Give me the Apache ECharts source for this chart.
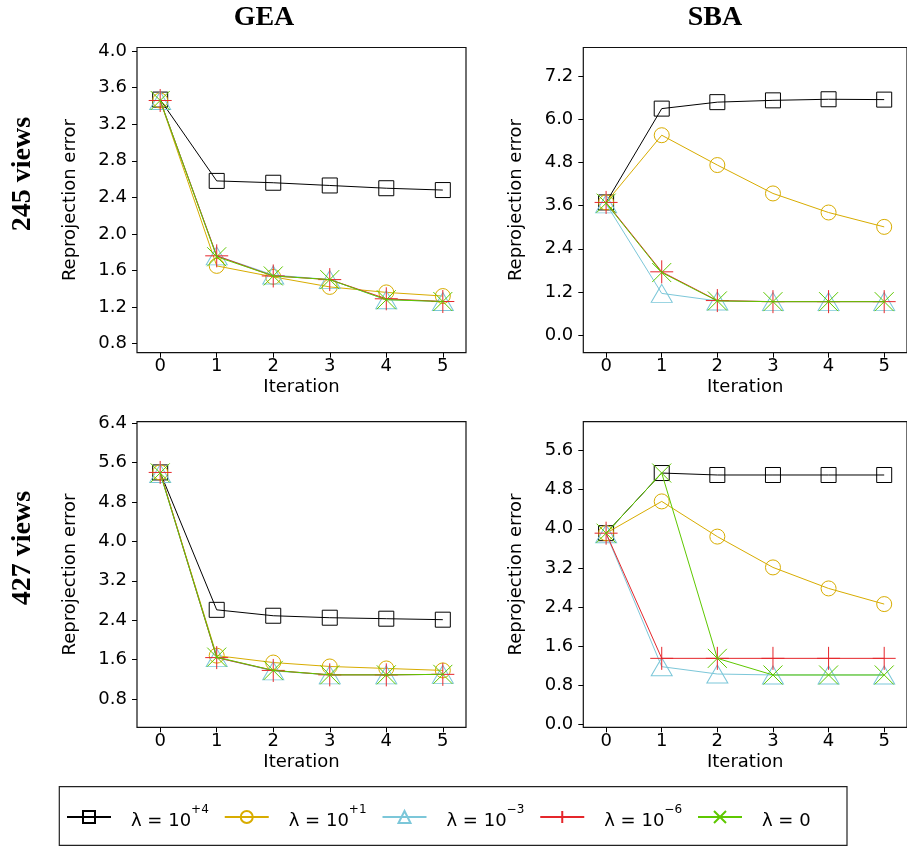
<!DOCTYPE html>
<html>
<head>
<meta charset="utf-8">
<script src="https://cdn.jsdelivr.net/npm/echarts@6/dist/echarts.min.js"></script>
<style>
html,body{margin:0;padding:0;background:#fff;}
#chart{width:907px;height:847px;}
</style>
</head>
<body>
<div id="chart"></div>
<script>
// ---------- data ----------
const iterations = [0, 1, 2, 3, 4, 5];
const lambdaNames = ['λ = 10+4', 'λ = 10+1', 'λ = 10−3', 'λ = 10−6', 'λ = 0'];
const columnTitles = ['GEA', 'SBA'];
const rowTitles = ['245 views', '427 views'];
const yAxisTitle = 'Reprojection error';
const xAxisTitle = 'Iteration';

// GEA, 245 views
const gea245_l4  = [3.47, 2.58, 2.56, 2.53, 2.50, 2.48];
const gea245_l1  = [3.46, 1.65, 1.53, 1.42, 1.36, 1.32];
const gea245_l3m = [3.46, 1.76, 1.55, 1.50, 1.28, 1.26];
const gea245_l6m = [3.46, 1.76, 1.54, 1.50, 1.29, 1.26];
const gea245_l0  = [3.46, 1.75, 1.54, 1.50, 1.28, 1.26];
// SBA, 245 views
const sba245_l4  = [3.69, 6.30, 6.48, 6.53, 6.56, 6.55];
const sba245_l1  = [3.69, 5.56, 4.73, 3.94, 3.41, 3.01];
const sba245_l3m = [3.65, 1.16, 0.95, 0.93, 0.93, 0.93];
const sba245_l6m = [3.69, 1.76, 0.96, 0.93, 0.93, 0.93];
const sba245_l0  = [3.67, 1.74, 0.95, 0.93, 0.93, 0.93];
// GEA, 427 views
const gea427_l4  = [5.40, 2.61, 2.49, 2.45, 2.43, 2.41];
const gea427_l1  = [5.40, 1.68, 1.54, 1.46, 1.42, 1.38];
const gea427_l3m = [5.38, 1.64, 1.37, 1.29, 1.29, 1.30];
const gea427_l6m = [5.40, 1.64, 1.38, 1.29, 1.29, 1.30];
const gea427_l0  = [5.39, 1.65, 1.38, 1.29, 1.29, 1.30];
// SBA, 427 views
const sba427_l4  = [3.91, 5.14, 5.10, 5.10, 5.10, 5.10];
const sba427_l1  = [3.91, 4.56, 3.84, 3.21, 2.78, 2.46];
const sba427_l3m = [3.90, 1.18, 1.03, 1.01, 1.01, 1.01];
const sba427_l6m = [3.91, 1.35, 1.35, 1.35, 1.35, 1.35];
const sba427_l0  = [3.91, 5.14, 1.35, 1.01, 1.01, 1.01];

// tick labels
const xTicks = [0, 1, 2, 3, 4, 5];
const yTicksGEA245 = [0.8, 1.2, 1.6, 2.0, 2.4, 2.8, 3.2, 3.6, 4.0];
const yTicksSBA245 = [0.0, 1.2, 2.4, 3.6, 4.8, 6.0, 7.2];
const yTicksGEA427 = [0.8, 1.6, 2.4, 3.2, 4.0, 4.8, 5.6, 6.4];
const yTicksSBA427 = [0.0, 0.8, 1.6, 2.4, 3.2, 4.0, 4.8, 5.6];

// ---------- layout / style ----------
const SANS = 'DejaVu Sans';
const panels = [
  {grid: {left: 137, top: 47.5, width: 329, height: 305.2}, ymin: 0.70, ymax: 4.04, ticks: yTicksGEA245,
   data: [gea245_l4, gea245_l1, gea245_l3m, gea245_l6m, gea245_l0]},
  {grid: {left: 583.3, top: 47.5, width: 330, height: 305.2}, ymin: -0.49, ymax: 8.0, ticks: yTicksSBA245,
   data: [sba245_l4, sba245_l1, sba245_l3m, sba245_l6m, sba245_l0]},
  {grid: {left: 137, top: 421.7, width: 329, height: 305.6}, ymin: 0.225, ymax: 6.43, ticks: yTicksGEA427,
   data: [gea427_l4, gea427_l1, gea427_l3m, gea427_l6m, gea427_l0]},
  {grid: {left: 583.3, top: 421.7, width: 330, height: 305.6}, ymin: -0.06, ymax: 6.19, ticks: yTicksSBA427,
   data: [sba427_l4, sba427_l1, sba427_l3m, sba427_l6m, sba427_l0]}
];

const styles = [
  {color: '#000000', symbol: 'rect', size: 15},
  {color: '#D8AC00', symbol: 'circle', size: 15},
  {color: '#7CC7D9', symbol: 'triangle', size: [21, 18]},
  {color: '#E5262B', symbol: 'path://M0,5L10,5M5,0L5,10', size: 23},
  {color: '#5EC800', symbol: 'path://M0,0L10,10M10,0L0,10', size: 19}
];

const grids = [], xAxes = [], yAxes = [], series = [];
panels.forEach((p, i) => {
  grids.push(Object.assign({show: true, borderColor: '#111', borderWidth: 1.2, backgroundColor: 'transparent', containLabel: false}, p.grid));
  xAxes.push({
    type: 'value', gridIndex: i, min: -0.41, max: 5.41,
    name: xAxisTitle, nameLocation: 'middle', nameGap: 26,
    nameTextStyle: {fontFamily: SANS, fontSize: 18, color: '#000'},
    axisLine: {show: false, onZero: false},
    axisTick: {show: true, length: 5, customValues: xTicks, lineStyle: {color: '#000', width: 1}},
    axisLabel: {customValues: xTicks, margin: 5, fontFamily: SANS, fontSize: 18, color: '#000'},
    splitLine: {show: false}
  });
  yAxes.push({
    type: 'value', gridIndex: i, min: p.ymin, max: p.ymax,
    name: yAxisTitle, nameLocation: 'middle', nameGap: 58,
    nameTextStyle: {fontFamily: SANS, fontSize: 18, color: '#000'},
    axisLine: {show: false, onZero: false},
    axisTick: {show: true, length: 5, customValues: p.ticks, lineStyle: {color: '#000', width: 1}},
    axisLabel: {customValues: p.ticks, margin: 10, fontFamily: SANS, fontSize: 18, color: '#000',
      formatter: v => Number(v).toFixed(1)},
    splitLine: {show: false}
  });
  p.data.forEach((vals, k) => {
    const s = styles[k];
    series.push({
      type: 'line', name: lambdaNames[k], xAxisIndex: i, yAxisIndex: i,
      data: iterations.map((it, j) => [it, vals[j]]),
      symbol: s.symbol, symbolSize: s.size, showSymbol: true, clip: false,
      lineStyle: {color: s.color, width: 1},
      itemStyle: {color: 'rgba(0,0,0,0)', borderColor: s.color, borderWidth: 1},
      emphasis: {disabled: true},
      z: 2 + k
    });
  });
});

const legendFmt = {
  'λ = 10+4': '{m|λ = 10}{s|+4}',
  'λ = 10+1': '{m|λ = 10}{s|+1}',
  'λ = 10−3': '{m|λ = 10}{s|−3}',
  'λ = 10−6': '{m|λ = 10}{s|−6}',
  'λ = 0': '{m|λ = 0}{s| }'
};
const legendLeft = [66, 223.75, 381.5, 539.25, 697];
const legends = lambdaNames.map((n, k) => ({
  data: [n], left: legendLeft[k], top: 804, orient: 'horizontal', padding: 0,
  itemWidth: 44, itemHeight: 15, selectedMode: false,
  formatter: nm => legendFmt[nm],
  textStyle: {
    padding: [0, 0, 0, 15],
    rich: {
      m: {fontFamily: SANS, fontSize: 18, color: '#000', lineHeight: 26, verticalAlign: 'bottom'},
      s: {fontFamily: SANS, fontSize: 12, color: '#000', lineHeight: 12, verticalAlign: 'top'}
    }
  }
}));

const chart = echarts.init(document.getElementById('chart'), null, {renderer: 'canvas'});
chart.setOption({
  animation: false,
  backgroundColor: '#fff',
  grid: grids, xAxis: xAxes, yAxis: yAxes, series: series,
  legend: legends,
  graphic: [
    {type: 'text', x: 264, y: 18, style: {text: columnTitles[0], font: 'bold 28px "Liberation Serif"', fill: '#000', align: 'center', verticalAlign: 'middle'}},
    {type: 'text', x: 715, y: 18, style: {text: columnTitles[1], font: 'bold 28px "Liberation Serif"', fill: '#000', align: 'center', verticalAlign: 'middle'}},
    {type: 'text', x: 22.5, y: 174, rotation: Math.PI / 2, style: {text: rowTitles[0], font: 'bold 28px "Liberation Serif"', fill: '#000', align: 'center', verticalAlign: 'middle'}},
    {type: 'text', x: 22.5, y: 548, rotation: Math.PI / 2, style: {text: rowTitles[1], font: 'bold 28px "Liberation Serif"', fill: '#000', align: 'center', verticalAlign: 'middle'}},
    {type: 'rect', shape: {x: 59.3, y: 786.7, width: 787.7, height: 58.6}, style: {fill: 'none', stroke: '#222', lineWidth: 1.2}, silent: true}
  ]
});
</script>
</body>
</html>
